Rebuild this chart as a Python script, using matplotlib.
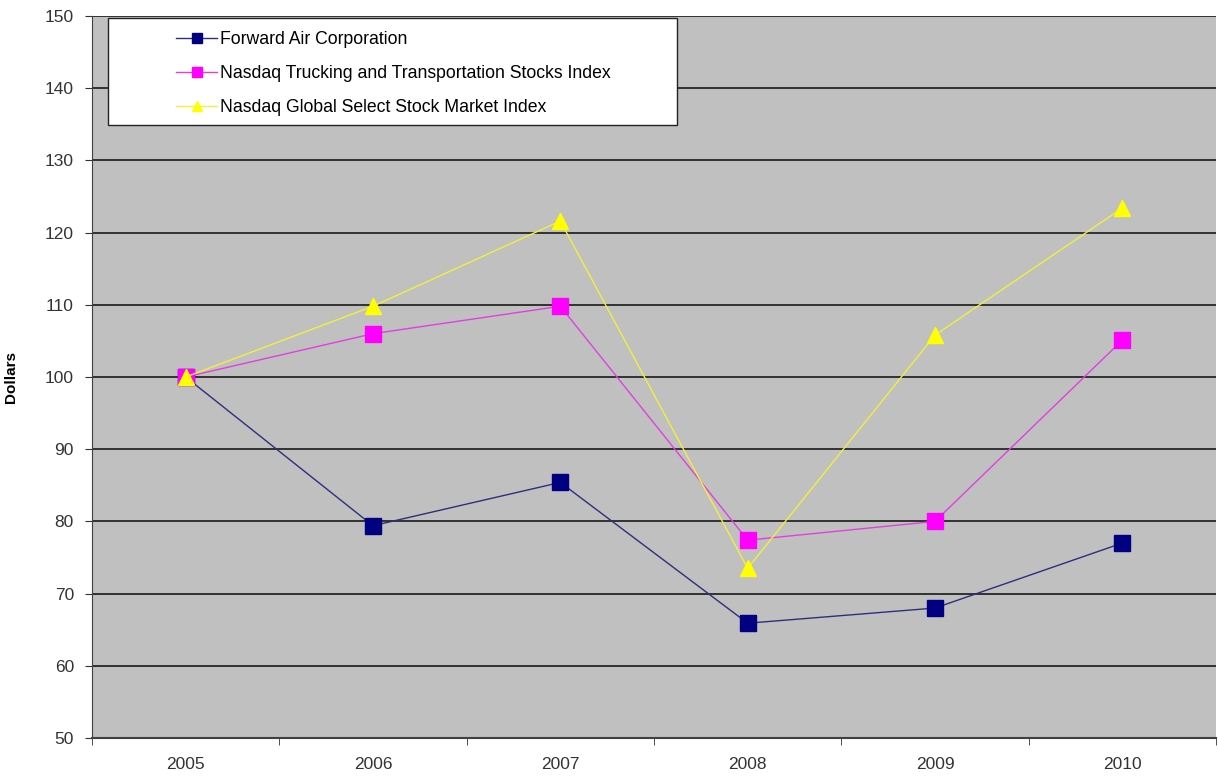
import matplotlib.pyplot as plt
from matplotlib.patches import Rectangle

plt.rcParams['font.family'] = ['Liberation Sans', 'DejaVu Sans']

years = ['2005', '2006', '2007', '2008', '2009', '2010']
forward_air = [100, 79.4, 85.4, 65.9, 68.0, 77.0]
nasdaq_trucking = [100, 106.0, 109.8, 77.4, 80.0, 105.1]
nasdaq_global = [100, 109.8, 121.6, 73.5, 105.8, 123.4]

x = list(range(len(years)))

fig = plt.figure(figsize=(12.18, 7.77), dpi=100)
ax = fig.add_axes([92 / 1218, 39 / 777, 1124 / 1218, 722 / 777])
ax.set_facecolor('#c0c0c0')

ax.plot(x, forward_air, color='#2e2e80', lw=1, marker='s', ms=11,
        mfc='#000080', mec='#000080', label='Forward Air Corporation', zorder=3)
ax.plot(x, nasdaq_trucking, color='#e040e0', lw=1, marker='s', ms=11,
        mfc='#ff00ff', mec='#ff00ff',
        label='Nasdaq Trucking and Transportation Stocks Index', zorder=3)
ax.plot(x, nasdaq_global, color='#f0f040', lw=1, marker='^', ms=12,
        mfc='#ffff00', mec='#ffff00',
        label='Nasdaq Global Select Stock Market Index', zorder=3)

ax.set_ylim(50, 150)
ax.set_yticks(range(50, 151, 10))
ax.set_xlim(-0.5, 5.5)
ax.set_xticks(x)
ax.set_xticklabels(years)
ax.set_xticks([i - 0.5 for i in range(7)], minor=True)
ax.tick_params(axis='x', which='major', length=0, pad=14, labelsize=12.5, labelcolor='#333333')
ax.tick_params(axis='x', which='minor', length=5, color='#333333', direction='out')
ax.tick_params(axis='y', length=5, color='#333333', labelsize=12.5, labelcolor='#333333', pad=8)

ax.yaxis.grid(True, color='#1a1a1a', lw=1.2)
ax.set_axisbelow(True)
for s in ['top', 'right']:
    ax.spines[s].set_visible(False)
ax.spines['left'].set_color('#404040')
ax.spines['bottom'].set_color('#404040')
ax.spines['bottom'].set_linewidth(1.5)

ax.set_ylabel('Dollars', fontweight='bold', fontsize=11)
ax.yaxis.set_label_coords(-0.066, 0.5)

# legend box
ax.add_patch(Rectangle((16 / 1124, (738 - 125) / 722), 569 / 1124, 107 / 722,
                       transform=ax.transAxes, facecolor='white', edgecolor='#222222',
                       lw=1, zorder=4))
leg = ax.legend(loc='upper left', bbox_to_anchor=(72 / 1124, 0.996), frameon=False,
                fontsize=12.7, markerscale=0.6, handlelength=2.3, handletextpad=0.15,
                labelspacing=0.95, borderaxespad=0.3)
leg.set_zorder(5)

fig.savefig('out.png', dpi=100)
